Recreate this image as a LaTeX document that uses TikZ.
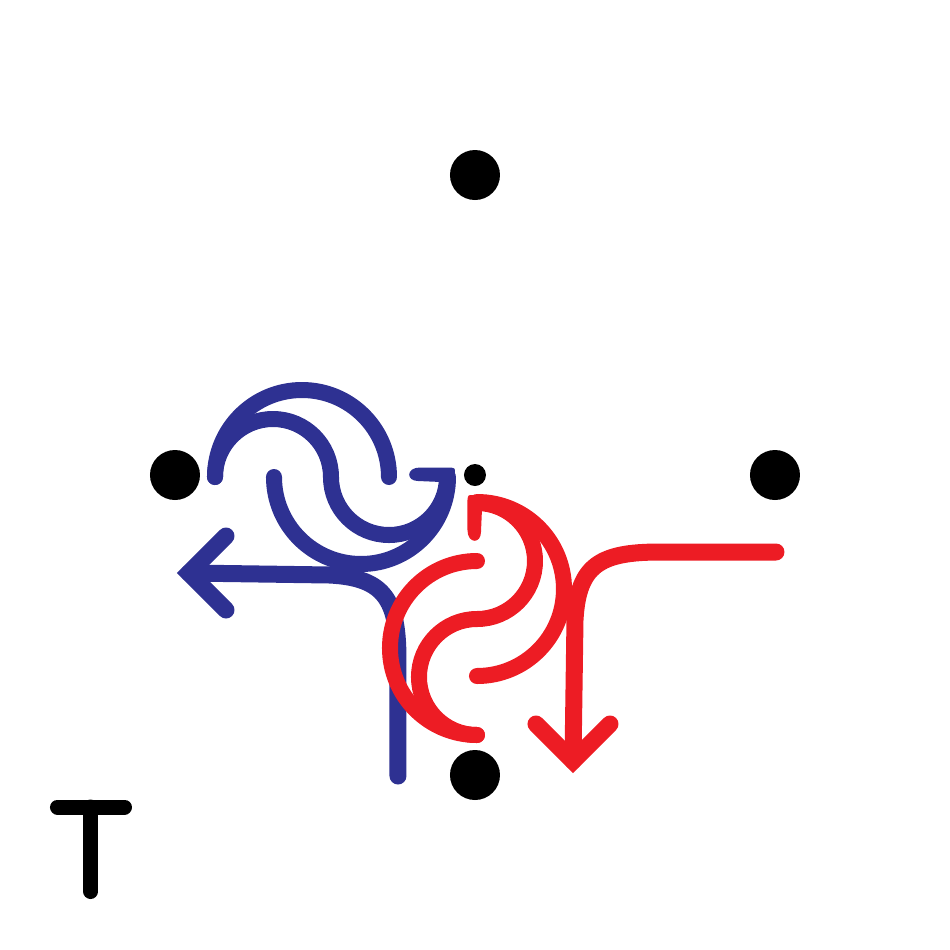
\documentclass[tikz,border=0pt]{standalone}
\usepackage{tikz}
\usepackage{xcolor}
\definecolor{flowblue}{HTML}{2E3192}
\definecolor{flowred}{HTML}{ED1C24}

\tikzset{
  flowline/.style={line width=0.16cm, line cap=round},
  arrowline/.style={line width=0.17cm, line cap=round},
}

% one flow motif (arcs, hook and turning arrow), around the centre
\newcommand{\drawflow}[1]{%
  \draw[flowline, draw=#1] (-260,-2) arc[start angle=180, end angle=0, radius=87];
  \draw[flowline, draw=#1] (-260,-2) arc[start angle=180, end angle=0, radius=58]
    arc[start angle=180, end angle=360, radius=58];
  \draw[flowline, draw=#1] (-201,-2) arc[start angle=180, end angle=360, radius=87];
  \fill[#1] (-20,-15) -- (-20,2) .. controls (-20,7) .. (-25,7.5) -- (-55,7.5)
    .. controls (-69,7.5) and (-69,-6) .. (-57,-6) -- (-34,-7) -- (-34,-15) -- cycle;
  \draw[arrowline, draw=#1] (-77,-301) -- (-77,-185)
    .. controls (-77,-125) and (-90,-103) .. (-145,-100) -- (-286,-98);
  \draw[arrowline, draw=#1, line join=miter] (-249,-61) -- (-286,-98) -- (-249,-135);
}

\begin{document}
\begin{tikzpicture}[x=0.01cm, y=0.01cm]
  \useasboundingbox (-475,-475) rectangle (475,475);

  % the four ends and the centre
  \coordinate (north) at (0,300);
  \coordinate (west) at (-300,0);
  \coordinate (east) at (300,0);
  \coordinate (south) at (0,-300);
  \coordinate (centre) at (0,0);
  \foreach \p in {north, west, east, south}
    \fill (\p) circle[radius=25];
  \fill (centre) circle[radius=11];

  \drawflow{flowblue}
  \begin{scope}[rotate=90]
    \drawflow{flowred}
  \end{scope}

  % letter
  \draw[line width=0.15cm, line cap=round] (-417.5,-332) -- (-350.5,-332);
  \draw[line width=0.15cm, line cap=round] (-384.3,-332) -- (-384.3,-416.5);
\end{tikzpicture}
\end{document}
